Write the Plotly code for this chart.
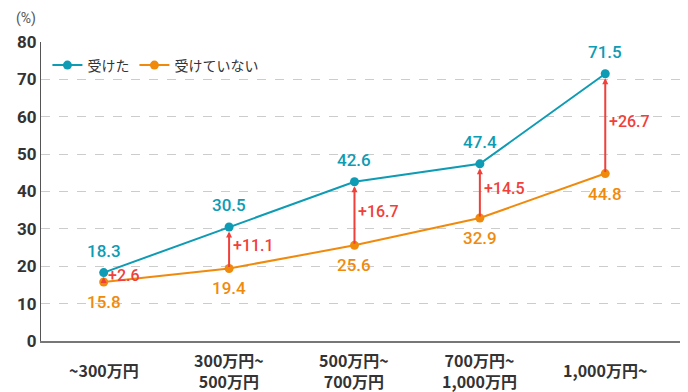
import plotly.graph_objects as go

categories = ["~300万円", "300万円~<br>500万円", "500万円~<br>700万円", "700万円~<br>1,000万円", "1,000万円~"]
received = [18.3, 30.5, 42.6, 47.4, 71.5]
not_received = [15.8, 19.4, 25.6, 32.9, 44.8]
diff_labels = ["+2.6", "+11.1", "+16.7", "+14.5", "+26.7"]
y_ticks = [0, 10, 20, 30, 40, 50, 60, 70, 80]

TEAL = "#0E9BB4"
ORANGE = "#F08A0C"
RED = "#F0403A"
NUMFONT = "Roboto, 'Noto Sans CJK JP', sans-serif"
JPFONT = "'Noto Sans CJK JP', sans-serif"

xs = list(range(len(categories)))

fig = go.Figure()
fig.add_trace(go.Scatter(x=xs, y=received, mode="lines+markers", name="受けた",
                         line=dict(color=TEAL, width=2), marker=dict(size=9, color=TEAL)))
fig.add_trace(go.Scatter(x=xs, y=not_received, mode="lines+markers", name="受けていない",
                         line=dict(color=ORANGE, width=2), marker=dict(size=9, color=ORANGE)))

ann = []
for i, (a, b, d) in enumerate(zip(received, not_received, diff_labels)):
    ann.append(dict(x=i, y=a - 1.2, ax=i, ay=b, xref="x", yref="y", axref="x", ayref="y",
                    showarrow=True, arrowhead=2, arrowsize=0.6, arrowwidth=2, arrowcolor=RED, text=""))
    ann.append(dict(x=i, y=(a + b) / 2, xref="x", yref="y", text=d,
                    showarrow=False, xanchor="left", xshift=2, yshift=2,
                    font=dict(family=NUMFONT, size=16, color=RED, weight=500)))
    ann.append(dict(x=i, y=a, xref="x", yref="y", text=f"{a}", showarrow=False,
                    yshift=22, font=dict(family=NUMFONT, size=17, color=TEAL, weight=500)))
    ann.append(dict(x=i, y=b, xref="x", yref="y", text=f"{b}", showarrow=False,
                    yshift=-20, font=dict(family=NUMFONT, size=17, color=ORANGE, weight=500)))

# category labels, vertically centred under the axis
for i, c in enumerate(categories):
    ann.append(dict(x=i, y=0, xref="x", yref="y", text=c, showarrow=False,
                    yanchor="middle", yshift=-29,
                    font=dict(family=JPFONT, size=16, color="#333", weight="bold")))

ann.append(dict(x=0, y=1, xref="paper", yref="paper", xanchor="left", yanchor="top",
                text="(%)", showarrow=False, xshift=-27, yshift=34,
                font=dict(family=NUMFONT, size=14, color="#555")))

fig.update_layout(
    width=680, height=384,
    margin=dict(l=33, r=5, t=34, b=51),
    paper_bgcolor="white", plot_bgcolor="white",
    showlegend=True,
    legend=dict(orientation="h", x=0.01, y=0.975, xanchor="left", yanchor="top",
                font=dict(family=JPFONT, size=14, color="#333"), bgcolor="rgba(0,0,0,0)",
                itemwidth=30),
    annotations=ann,
    xaxis=dict(tickmode="array", tickvals=xs, showticklabels=False, range=[-0.5, 4.62],
               showgrid=False, showline=True, linecolor="#777", linewidth=2, ticks="",
               zeroline=False, automargin=False),
    yaxis=dict(range=[0, 80], tickvals=y_ticks, showgrid=True, gridcolor="#CCCCCC",
               griddash="dash", gridwidth=1, showline=True, linecolor="#555", linewidth=1,
               zeroline=False, ticks="", automargin=False,
               tickfont=dict(family=NUMFONT, size=17, color="#333", weight="bold")),
)

fig.write_html("out.html")
